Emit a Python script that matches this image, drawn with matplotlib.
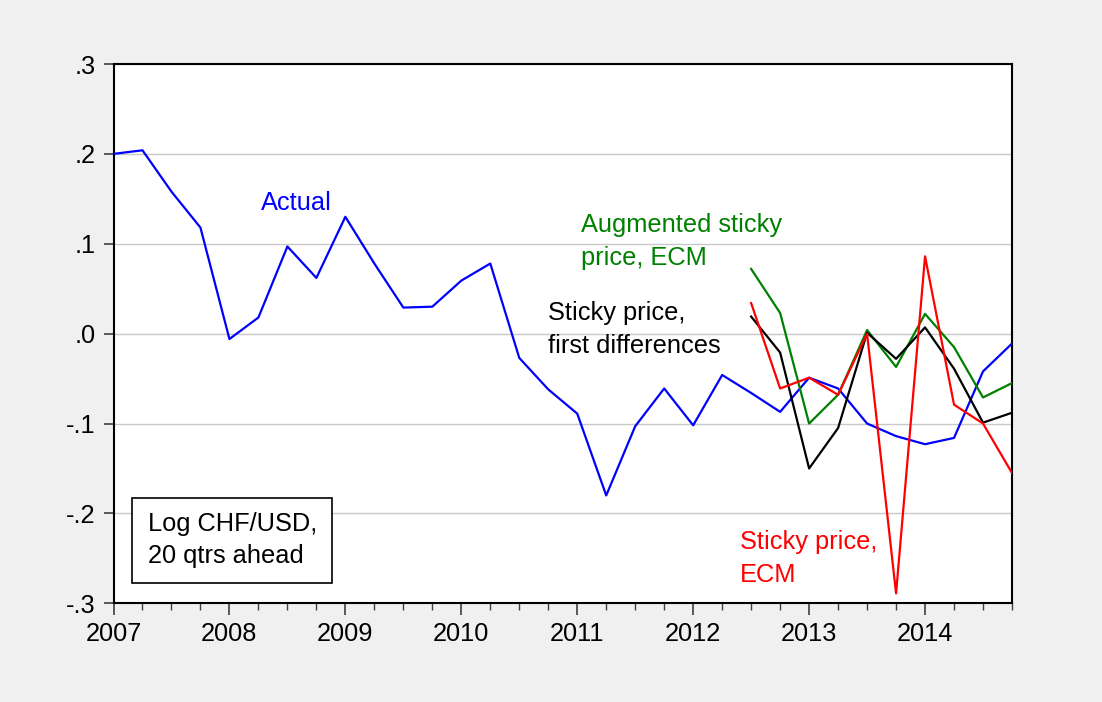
import numpy as np
import matplotlib
matplotlib.use("Agg")
import matplotlib.pyplot as plt
from matplotlib.patches import Rectangle
from matplotlib.ticker import MultipleLocator, FixedLocator

plt.rcParams['font.family'] = ['Liberation Sans', 'DejaVu Sans']

start_year = 2007
# quarterly observations 2007Q1 .. 2014Q4
actual = [0.200, 0.204, 0.158, 0.118, -0.006, 0.018, 0.097, 0.062,
          0.130, 0.078, 0.029, 0.030, 0.059, 0.078, -0.027, -0.062,
          -0.089, -0.180, -0.103, -0.061, -0.102, -0.046, -0.066, -0.087,
          -0.049, -0.061, -0.100, -0.114, -0.123, -0.116, -0.042, -0.011]
# forecasts start at 2012Q3 (index 22)
fc_start = 22
aug_ecm = [0.072, 0.023, -0.100, -0.068, 0.004, -0.037, 0.022, -0.015, -0.071, -0.055]
sticky_fd = [0.019, -0.021, -0.150, -0.105, 0.001, -0.028, 0.007, -0.039, -0.099, -0.088]
sticky_ecm = [0.034, -0.061, -0.049, -0.068, 0.000, -0.289, 0.086, -0.079, -0.100, -0.155]

year_ticks = list(range(2007, 2015))
y_ticks = [0.3, 0.2, 0.1, 0.0, -0.1, -0.2, -0.3]
y_labels = [".3", ".2", ".1", ".0", "-.1", "-.2", "-.3"]

x_act = start_year + 0.25 * np.arange(len(actual))
x_fc = start_year + 0.25 * (fc_start + np.arange(len(aug_ecm)))

fig = plt.figure(figsize=(11.02, 7.02), dpi=100, facecolor='#f0f0f0')
ax = fig.add_axes([113.5/1102, 1 - 603.3/702, (1012 - 113.5)/1102, (603.3 - 64)/702])
ax.set_facecolor('white')

lw = 1.6
ax.plot(x_act, actual, color='#0000ff', lw=lw, zorder=3)
ax.plot(x_fc, aug_ecm, color='#008000', lw=lw, zorder=3)
ax.plot(x_fc, sticky_fd, color='black', lw=lw, zorder=3)
ax.plot(x_fc, sticky_ecm, color='#ff0000', lw=lw, zorder=4)

ax.set_xlim(start_year, start_year + 0.25 * (len(actual) - 1))
ax.set_ylim(-0.3, 0.3)
ax.set_yticks(y_ticks)
ax.set_yticklabels(y_labels)
ax.xaxis.set_major_locator(FixedLocator(year_ticks))
ax.set_xticklabels([str(y) for y in year_ticks])
ax.xaxis.set_minor_locator(MultipleLocator(0.25))

ax.grid(axis='y', color='#c8c8c8', lw=1.0, zorder=1)
ax.set_axisbelow(True)

fs = 18.3
ax.tick_params(axis='y', which='major', length=7, width=1.2, color='#404040',
               labelsize=fs, pad=6, direction='out')
ax.tick_params(axis='x', which='major', length=8.4, width=1.2, color='#404040',
               labelsize=fs, pad=5, direction='out')
ax.tick_params(axis='x', which='minor', length=4.8, width=1.0, color='#404040', direction='out')
for s in ax.spines.values():
    s.set_linewidth(1.5)
    s.set_color('black')

# annotations
ax.text(2008.276, 0.1378, "Actual", color='#0000ff', fontsize=fs, va='baseline')
ax.text(2011.033, 0.1136, "Augmented sticky", color='#008000', fontsize=fs, va='baseline')
ax.text(2011.033, 0.0765, "price, ECM", color='#008000', fontsize=fs, va='baseline')
ax.text(2010.745, 0.0153, "Sticky price,", color='black', fontsize=fs, va='baseline')
ax.text(2010.745, -0.0212, "first differences", color='black', fontsize=fs, va='baseline')
ax.text(2012.405, -0.240, "Sticky price,", color='#ff0000', fontsize=fs, va='baseline')
ax.text(2012.405, -0.276, "ECM", color='#ff0000', fontsize=fs, va='baseline')

ax.add_patch(Rectangle((2007.157, -0.2773), 2008.888 - 2007.157, -0.1826 + 0.2773,
                       facecolor='white', edgecolor='black', lw=1.2, zorder=5))
ax.text(2007.30, -0.2194, "Log CHF/USD,", color='black', fontsize=fs, va='baseline', zorder=6)
ax.text(2007.30, -0.2557, "20 qtrs ahead", color='black', fontsize=fs, va='baseline', zorder=6)

fig.savefig("out.png", dpi=100, facecolor=fig.get_facecolor())
